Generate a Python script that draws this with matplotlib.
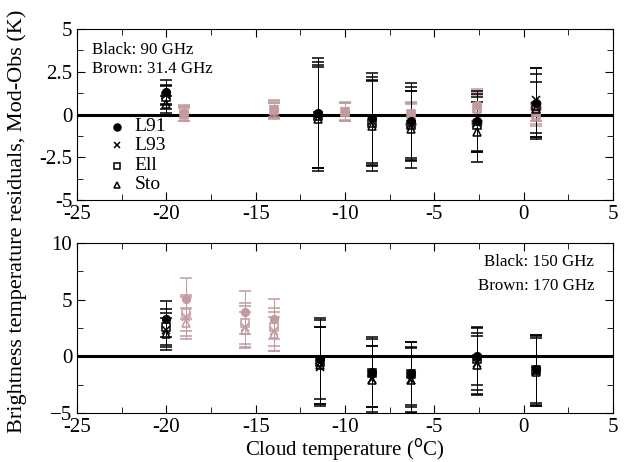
import matplotlib
matplotlib.use('Agg')
import matplotlib.pyplot as plt
from matplotlib.ticker import MultipleLocator

plt.rcParams['font.family'] = ['Liberation Serif', 'DejaVu Serif']

models = ['L91', 'L93', 'Ell', 'Sto']
markers = ['o', 'x', 's', '^']
black = 'black'
brown = '#c49a9e'

# top panel: 90 GHz (black), 31.4 GHz (brown)
# values per model L91, L93, Ell, Sto at each cloud temperature
top_black_x = [-20.0, -11.5, -8.5, -6.3, -2.6, 0.7]
top_black_y = [[1.3, 1.15, 1.0, 0.6],
               [0.1, 0.0, -0.1, -0.25],
               [-0.2, -0.4, -0.5, -0.65],
               [-0.4, -0.55, -0.6, -0.85],
               [-0.4, -0.5, -0.6, -1.0],
               [0.7, 0.85, 0.5, 0.3]]
top_black_e = [[0.7, 0.6, 0.65, 0.5],
               [3.2, 3.1, 3.0, 3.05],
               [2.65, 2.6, 2.45, 2.65],
               [2.25, 2.15, 1.95, 2.25],
               [1.75, 1.7, 1.6, 1.75],
               [2.0, 1.9, 1.9, 1.6]]

top_brown_x = [-19.0, -14.0, -10.0, -6.3, -2.6, 0.7]
top_brown_y = [[0.1, 0.05, 0.05, 0.0],
               [0.35, 0.3, 0.25, 0.2],
               [0.2, 0.2, 0.15, 0.15],
               [0.1, 0.05, 0.05, 0.0],
               [0.55, 0.5, 0.4, 0.3],
               [0.15, 0.1, -0.05, -0.15]]
top_brown_e = [[0.45, 0.45, 0.4, 0.4],
               [0.5, 0.5, 0.45, 0.45],
               [0.55, 0.5, 0.5, 0.5],
               [0.65, 0.6, 0.6, 0.6],
               [0.95, 0.9, 0.85, 0.85],
               [0.5, 0.5, 0.5, 0.5]]

# bottom panel: 150 GHz (black), 170 GHz (brown)
bot_black_x = [-20.0, -11.4, -8.5, -6.3, -2.6, 0.7]
bot_black_y = [[3.3, 2.3, 2.6, 2.0],
               [-0.2, -0.9, -0.5, -0.8],
               [-1.4, -2.0, -1.5, -2.1],
               [-1.5, -2.1, -1.6, -2.1],
               [0.0, -0.6, -0.2, -0.8],
               [-1.1, -1.3, -1.2, -1.4]]
bot_black_e = [[1.6, 1.5, 1.6, 1.4],
               [3.6, 3.5, 3.7, 3.4],
               [3.1, 2.9, 3.0, 3.0],
               [2.8, 2.9, 2.9, 2.8],
               [2.5, 2.7, 2.8, 2.6],
               [3.0, 3.1, 3.1, 3.0]]

bot_brown_x = [-18.9, -15.6, -14.0]
bot_brown_y = [[5.1, 3.5, 3.8, 2.9],
               [3.9, 2.6, 2.9, 2.3],
               [3.3, 2.2, 2.6, 2.0]]
bot_brown_e = [[1.8, 1.7, 1.6, 1.4],
               [1.9, 1.8, 1.8, 1.6],
               [1.8, 1.7, 1.7, 1.5]]


def draw(ax, xs, ys, es, color):
    for m in range(4):
        yy = [row[m] for row in ys]
        ee = [row[m] for row in es]
        face = color if markers[m] == 'o' else 'none'
        ax.errorbar(xs, yy, yerr=ee, fmt=markers[m], color=color,
                    mfc=face, mec=color, ms=5.5, mew=1.1,
                    ecolor=color, elinewidth=0.7, capsize=4, capthick=1.0,
                    zorder=3)


def style(ax, ymin, ymax, ymaj, ymin_step):
    ax.set_xlim(-25, 5)
    ax.set_ylim(ymin, ymax)
    ax.xaxis.set_major_locator(MultipleLocator(5))
    ax.xaxis.set_minor_locator(MultipleLocator(2.5))
    ax.yaxis.set_major_locator(MultipleLocator(ymaj))
    ax.yaxis.set_minor_locator(MultipleLocator(ymin_step))
    ax.tick_params(which='both', direction='in', top=True, right=True,
                   labelsize=15)
    ax.tick_params(which='major', length=6)
    ax.tick_params(which='minor', length=4)
    ax.axhline(0, color='black', lw=2.2, zorder=2)
    for s in ax.spines.values():
        s.set_linewidth(0.8)


fig = plt.figure(figsize=(6.28, 4.62), dpi=100)
ax1 = fig.add_axes([0.1226, 0.567, 0.8535, 0.370])
ax2 = fig.add_axes([0.1226, 0.106, 0.8535, 0.368])

draw(ax1, top_brown_x, top_brown_y, top_brown_e, brown)
draw(ax1, top_black_x, top_black_y, top_black_e, black)
style(ax1, -5, 5, 2.5, 1.25)
ax1.set_yticks([-5, -2.5, 0, 2.5, 5])
ax1.set_yticklabels(['-5', '-2.5', '0', '2.5', '5'])
ax1.set_xticks([-25, -20, -15, -10, -5, 0, 5])
ax1.set_xticklabels(['-25', '-20', '-15', '-10', '-5', '0', '5'])

ax1.text(0.028, 0.88, 'Black: 90 GHz', transform=ax1.transAxes, fontsize=12.2, va='center')
ax1.text(0.028, 0.765, 'Brown: 31.4 GHz', transform=ax1.transAxes, fontsize=12.2, va='center')

# legend drawn by hand
leg_y = [0.43, 0.32, 0.20, 0.09]
for m in range(4):
    face = 'black' if markers[m] == 'o' else 'none'
    ax1.plot([0.075], [leg_y[m]], markers[m], transform=ax1.transAxes,
             color='black', mfc=face, ms=5, mew=1.1)
    ax1.text(0.107, leg_y[m], models[m], transform=ax1.transAxes,
             fontsize=14, va='center')

draw(ax2, bot_brown_x, bot_brown_y, bot_brown_e, brown)
draw(ax2, bot_black_x, bot_black_y, bot_black_e, black)
style(ax2, -5, 10, 5, 2.5)
ax2.set_xticks([-25, -20, -15, -10, -5, 0, 5])
ax2.set_xticklabels(['-25', '-20', '-15', '-10', '-5', '0', '5'])
ax2.text(0.965, 0.89, 'Black: 150 GHz', transform=ax2.transAxes, fontsize=12.2,
         va='center', ha='right')
ax2.text(0.965, 0.75, 'Brown: 170 GHz', transform=ax2.transAxes, fontsize=12.2,
         va='center', ha='right')
fig.text(0.549, 0.028, 'Cloud temperature ($^{\\mathrm{o}}$C)', fontsize=15,
         ha='center', va='center')

fig.text(0.012, 0.52, 'Brightness temperature residuals, Mod-Obs (K)',
         rotation=90, va='center', ha='left', fontsize=16)

fig.savefig('out.png', dpi=100)
